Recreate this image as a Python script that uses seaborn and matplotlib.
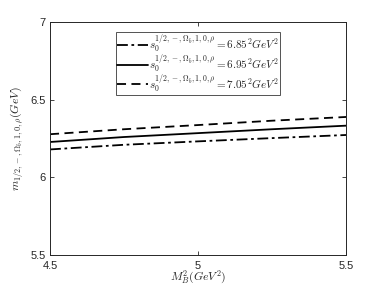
import matplotlib
matplotlib.use("Agg")
import matplotlib.pyplot as plt
import seaborn as sns
import pandas as pd

sns.set_theme(style="ticks")
plt.rcParams['font.family'] = ['Liberation Sans', 'DejaVu Sans']
plt.rcParams['mathtext.fontset'] = 'cm'

mb2 = [4.5, 4.75, 5.0, 5.25, 5.5]
m_685 = [6.180, 6.210, 6.232, 6.253, 6.273]
m_695 = [6.228, 6.260, 6.285, 6.310, 6.333]
m_705 = [6.278, 6.310, 6.337, 6.365, 6.389]
labels = [r'$s_0^{1/2,-,\Omega_b,1,0,\rho}=6.85^2GeV^2$',
          r'$s_0^{1/2,-,\Omega_b,1,0,\rho}=6.95^2GeV^2$',
          r'$s_0^{1/2,-,\Omega_b,1,0,\rho}=7.05^2GeV^2$']
xticks = [4.5, 5, 5.5]
yticks = [5.5, 6, 6.5, 7]
xtick_labels = ['4.5', '5', '5.5']
ytick_labels = ['5.5', '6', '6.5', '7']

fig = plt.figure(figsize=(3.82, 2.86), dpi=100)
ax = fig.add_axes([0.131, 0.108, 0.775, 0.815])

styles = [(0, (6, 2, 1.5, 2)), '-', (0, (5, 3))]
for vals, lab, ls in zip([m_685, m_695, m_705], labels, styles):
    df = pd.DataFrame({'x': mb2, 'y': vals})
    sns.lineplot(data=df, x='x', y='y', ax=ax, color='black', lw=1.3,
                 linestyle=ls, label=lab)

ax.set_xlim(4.5, 5.5)
ax.set_ylim(5.5, 7)
ax.set_xticks(xticks)
ax.set_xticklabels(xtick_labels)
ax.set_yticks(yticks)
ax.set_yticklabels(ytick_labels)
ax.tick_params(direction='in', length=3, width=0.6, labelsize=8, colors='#262626',
               top=True, right=True)
ax.tick_params(axis='x', pad=4)
ax.tick_params(axis='y', pad=3)
for s in ax.spines.values():
    s.set_linewidth(0.7)
    s.set_color('#262626')
ax.set_xlabel(r'$M_B^2(GeV^2)$', fontsize=8.5, labelpad=-1)
ax.set_ylabel(r'$m_{1/2,-,\Omega_b,1,0,\rho}(GeV)$', fontsize=8.5, labelpad=4)

leg = ax.legend(loc='upper center', bbox_to_anchor=(0.5, 0.965), fontsize=8,
                frameon=True, fancybox=False, edgecolor='#262626',
                handlelength=2.8, handletextpad=0.1, borderpad=0.1,
                labelspacing=-0.1, borderaxespad=0.2)
leg.get_frame().set_linewidth(0.7)

fig.savefig('out.png', dpi=100)
